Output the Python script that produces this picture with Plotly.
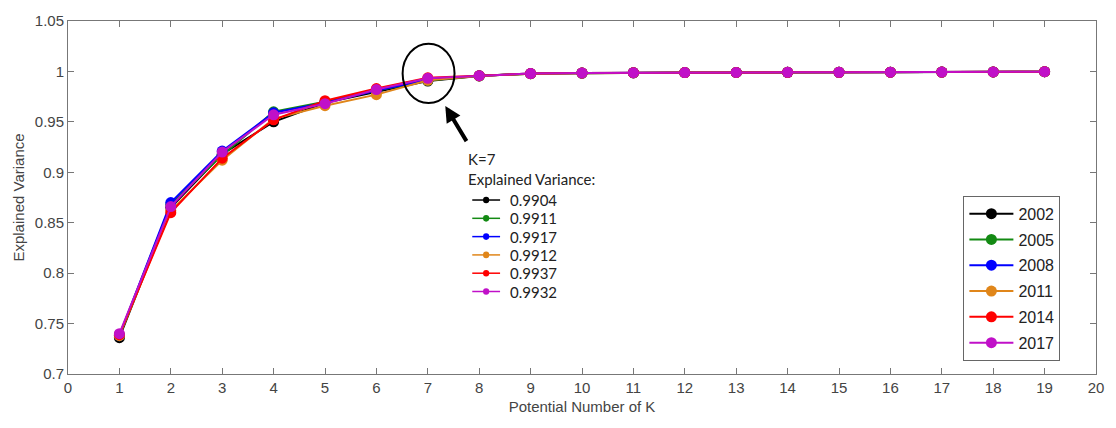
import plotly.graph_objects as go

k_values = list(range(1, 20))
years = ["2002", "2005", "2008", "2011", "2014", "2017"]
colors = ["#000000", "#138a13", "#0000ff", "#e0861a", "#ff0000", "#c010c8"]

ev_2002 = [0.736, 0.865, 0.918, 0.950, 0.969, 0.980, 0.9904, 0.9955, 0.9978, 0.9984, 0.9987, 0.9989, 0.9990, 0.9991, 0.9992, 0.9993, 0.9994, 0.9995, 0.9997]
ev_2005 = [0.738, 0.868, 0.917, 0.960, 0.970, 0.981, 0.9911, 0.9956, 0.9978, 0.9984, 0.9987, 0.9989, 0.9990, 0.9991, 0.9992, 0.9993, 0.9994, 0.9995, 0.9997]
ev_2008 = [0.738, 0.870, 0.921, 0.959, 0.969, 0.981, 0.9917, 0.9957, 0.9979, 0.9984, 0.9987, 0.9989, 0.9990, 0.9991, 0.9992, 0.9993, 0.9994, 0.9995, 0.9997]
ev_2011 = [0.738, 0.862, 0.912, 0.953, 0.966, 0.977, 0.9912, 0.9955, 0.9978, 0.9984, 0.9987, 0.9989, 0.9990, 0.9991, 0.9992, 0.9993, 0.9994, 0.9995, 0.9997]
ev_2014 = [0.739, 0.860, 0.914, 0.952, 0.971, 0.983, 0.9937, 0.9958, 0.9979, 0.9985, 0.9988, 0.9989, 0.9990, 0.9991, 0.9992, 0.9993, 0.9994, 0.9995, 0.9997]
ev_2017 = [0.740, 0.866, 0.920, 0.957, 0.968, 0.982, 0.9932, 0.9958, 0.9979, 0.9985, 0.9988, 0.9989, 0.9990, 0.9991, 0.9992, 0.9993, 0.9994, 0.9995, 0.9997]
series = [ev_2002, ev_2005, ev_2008, ev_2011, ev_2014, ev_2017]

x_ticks = list(range(0, 21))
y_ticks = [0.7, 0.75, 0.8, 0.85, 0.9, 0.95, 1.0, 1.05]
y_tick_labels = ["0.7", "0.75", "0.8", "0.85", "0.9", "0.95", "1", "1.05"]

fig = go.Figure()
for name, vals, col in zip(years, series, colors):
    fig.add_trace(go.Scatter(
        x=k_values, y=vals, mode="lines+markers", name=name,
        line=dict(color=col, width=2),
        marker=dict(color=col, size=11),
        legendgroup=name,
    ))

axis_font = dict(family="Arial, Liberation Sans", size=15, color="#444")
fig.update_layout(
    width=1116, height=428,
    margin=dict(l=68, r=13, t=17, b=54),
    paper_bgcolor="white", plot_bgcolor="white",
    font=axis_font,
    xaxis=dict(range=[0, 20], tickvals=x_ticks, ticks="inside", ticklen=6, tickcolor="#777",
               showline=True, linecolor="#777", linewidth=1, mirror="ticks",
               showgrid=False, zeroline=False, tickfont=axis_font,
               title=dict(text="Potential Number of K", font=axis_font, standoff=6)),
    yaxis=dict(range=[0.7, 1.05], tickvals=y_ticks, ticktext=y_tick_labels, ticks="inside", ticklen=6,
               tickcolor="#777", showline=True, linecolor="#777", linewidth=1, mirror="ticks",
               showgrid=False, zeroline=False, tickfont=axis_font,
               title=dict(text="Explained Variance", font=axis_font, standoff=6)),
    legend=dict(x=0.871, y=0.505, xanchor="left", yanchor="top",
                bordercolor="#666", borderwidth=1, bgcolor="white",
                font=dict(family="Arial, Liberation Sans", size=16, color="#222"),
                tracegroupgap=2, itemwidth=44),
    showlegend=True,
)

# circle highlighting K=7
fig.add_shape(type="circle", xref="x", yref="y", x0=6.51, x1=7.52, y0=0.9686, y1=1.0275,
              line=dict(color="black", width=2))
# arrow
fig.add_annotation(x=7.34, y=0.9657, ax=7.77, ay=0.9294, xref="x", yref="y", axref="x", ayref="y",
                   text="", showarrow=True, arrowhead=2, arrowsize=0.8, arrowwidth=4, arrowcolor="black")

note_font = dict(family="Lato", size=15, color="#222")
k_sel = 7
fig.add_annotation(x=7.74, y=0.9127, xref="x", yref="y", text=f"K={k_sel}", showarrow=False,
                   xanchor="left", yanchor="middle", font=note_font)
fig.add_annotation(x=7.74, y=0.8931, xref="x", yref="y", text="Explained Variance:", showarrow=False,
                   xanchor="left", yanchor="middle", font=note_font)
row_y0 = 0.8725
row_step = 0.01814
for i, (vals, col) in enumerate(zip(series, colors)):
    yy = row_y0 - i * row_step
    fig.add_shape(type="line", xref="x", yref="y", x0=7.865, x1=8.406, y0=yy, y1=yy,
                  line=dict(color=col, width=1.5))
    fig.add_shape(type="circle", xref="x", yref="y", x0=8.135 - 0.06, x1=8.135 + 0.06,
                  y0=yy - 0.0033, y1=yy + 0.0033, fillcolor=col, line=dict(color=col, width=0))
    fig.add_annotation(x=8.56, y=yy, xref="x", yref="y", text=f"{vals[k_sel - 1]:.4f}",
                       showarrow=False, xanchor="left", yanchor="middle", font=note_font)

fig.write_html("out.html")
